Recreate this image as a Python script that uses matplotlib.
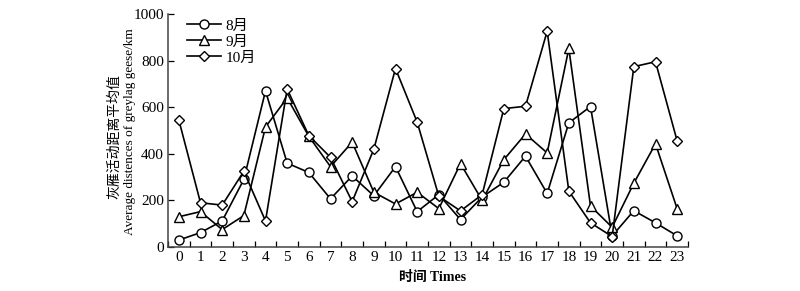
import matplotlib
matplotlib.use("Agg")
import matplotlib.pyplot as plt
import numpy as np

# hours of day and mean distances (km) per month
hours = list(range(24))
aug = [30, 62, 112, 290, 670, 360, 320, 207, 305, 220, 345, 152,
       225, 118, 215, 278, 390, 230, 533, 603, 48, 156, 104, 48]
sep = [130, 152, 75, 135, 515, 640, 475, 345, 450, 235, 185, 235,
       165, 358, 200, 375, 485, 404, 852, 176, 85, 274, 443, 164]
oct_ = [545, 190, 180, 325, 112, 678, 478, 385, 195, 420, 766, 536,
        218, 155, 225, 594, 604, 926, 240, 104, 45, 774, 795, 455]
labels = ["8月", "9月", "10月"]

fams = ["Liberation Serif", "Noto Sans CJK SC"]
plt.rcParams["font.family"] = fams

fig = plt.figure(figsize=(8, 2.91), dpi=100)
ax = fig.add_axes([0.21, 0.151, 0.65, 0.801])

style = dict(color="black", lw=1.2, markersize=6.5, markerfacecolor="white",
             markeredgecolor="black", markeredgewidth=1.0)
ax.plot(hours, aug, marker="o", label=labels[0], **style)
ax.plot(hours, sep, marker="^", label=labels[1], **style)
ax.plot(hours, oct_, marker="D", label=labels[2], **dict(style, markersize=5.3))

ax.set_xlim(-0.5, 23.5)
ax.set_ylim(0, 1000)
ax.set_xticks(hours)
ax.set_xticks(np.arange(-0.5, 24, 1), minor=True)
ax.tick_params(axis="x", which="major", length=0, labelsize=11, pad=3)
ax.tick_params(axis="x", which="minor", direction="in", length=4.5, width=0.9)
ax.set_yticks([0, 200, 400, 600, 800, 1000])
ax.tick_params(axis="y", direction="in", length=4.5, width=0.9, labelsize=11, pad=3)

for s in ["top", "right"]:
    ax.spines[s].set_visible(False)
for s in ["left", "bottom"]:
    ax.spines[s].set_linewidth(1.1)
    ax.spines[s].set_color("#444444")

leg = ax.legend(loc="upper left", bbox_to_anchor=(0.025, 1.005), frameon=False,
                fontsize=11, handlelength=2.2, handletextpad=0.3,
                labelspacing=0.15, borderaxespad=0)

fig.text(0.143, 0.53, "灰雁活动距离平均值", rotation=90, ha="center", va="center",
         fontsize=10, family=["Noto Sans CJK SC", "Liberation Serif"])
fig.text(0.162, 0.548, "Average distences of greylag geese/km", rotation=90,
         ha="center", va="center", fontsize=9.5)
fig.text(0.541, 0.045, "时间 Times", ha="center", va="center", fontsize=10,
         fontweight="bold")

fig.savefig("out.png", dpi=100)
